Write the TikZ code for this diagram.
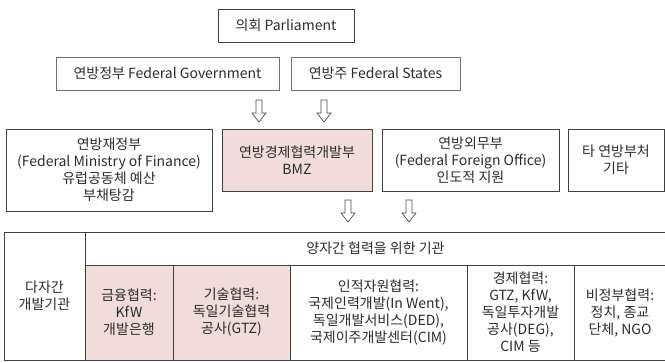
\documentclass[tikz,border=0pt]{standalone}
\usepackage{fontspec}
\setmainfont{Noto Sans CJK KR}
\definecolor{pinkfill}{HTML}{F2DCDB}
\definecolor{txt}{HTML}{2B2B2B}
\definecolor{lineA}{HTML}{404040}
\definecolor{lineB}{HTML}{707070}
\begin{document}
\begin{tikzpicture}[x=1pt,y=-1pt,
  every node/.style={font=\fontsize{14}{17}\selectfont, text=txt, align=center, inner sep=0pt},
  topbox/.style={draw=lineB, line width=0.9pt, minimum height=33pt},
  midbox/.style={draw=lineA, line width=0.9pt},
  cell/.style={draw=lineA, line width=0.9pt},
  pinkcell/.style={cell, fill=pinkfill},
  arrowline/.style={draw=black!70, line width=0.7pt, fill=white},
  blockarr/.pic={\path[arrowline] (-3,0) -- (3,0) -- (3,13) -- (7,13) -- (0,22) -- (-7,13) -- (-3,13) -- cycle;}
]
\useasboundingbox (0,0) rectangle (665,363);
% top
\node[topbox, draw=lineA, minimum width=136pt] (parl) at (286,25.5) {의회 Parliament};
\node[topbox, minimum width=223pt] (fedgov) at (167.5,73.5) {연방정부 Federal Government};
\node[topbox, minimum width=169pt] (fedst) at (375.5,73.5) {연방주 Federal States};
% arrows 1
\coordinate (a1) at (259,100);
\coordinate (a2) at (324,100);
\pic at (a1) {blockarr};
\pic at (a2) {blockarr};
% middle row
\node[midbox, minimum width=206pt, minimum height=82pt] (fin) at (109,170) {연방재정부\\(Federal Ministry of Finance)\\유럽공동체 예산\\부채탕감};
\node[midbox, fill=pinkfill, minimum width=150pt, minimum height=62pt] (bmz) at (297,160) {연방경제협력개발부\\BMZ};
\node[midbox, minimum width=177pt, minimum height=62pt] (ffo) at (470.5,160) {연방외무부\\(Federal Foreign Office)\\인도적 지원};
\node[midbox, minimum width=96pt, minimum height=62pt] (oth) at (616,160) {타 연방부처\\기타};
% arrows 2
\coordinate (b1) at (348,200);
\coordinate (b2) at (409,200);
\pic at (b1) {blockarr};
\pic at (b2) {blockarr};
% table
\node[cell, minimum width=81pt, minimum height=128pt] (multi) at (44.5,296) {다자간\\개발기관};
\node[cell, minimum width=581pt, minimum height=33pt] (bihead) at (375.5,248.5) {양자간 협력을 위한 기관};
\node[pinkcell, minimum width=88pt, minimum height=95pt] (c1) at (129,312.5) {금융협력:\\KfW\\개발은행};
\node[pinkcell, minimum width=117pt, minimum height=95pt] (c2) at (231.5,312.5) {기술협력:\\독일기술협력\\공사(GTZ)};
\node[cell, minimum width=177pt, minimum height=95pt] (c3) at (378.5,312.5) {인적자원협력:\\국제인력개발(In Went),\\독일개발서비스(DED),\\국제이주개발센터(CIM)};
\node[cell, minimum width=107pt, minimum height=95pt] (c4) at (520.5,312.5) {경제협력:\\GTZ, KfW,\\독일투자개발\\공사(DEG),\\CIM 등};
\node[cell, minimum width=92pt, minimum height=95pt] (c5) at (620,312.5) {비정부협력:\\정치, 종교\\단체, NGO};
\end{tikzpicture}
\end{document}
